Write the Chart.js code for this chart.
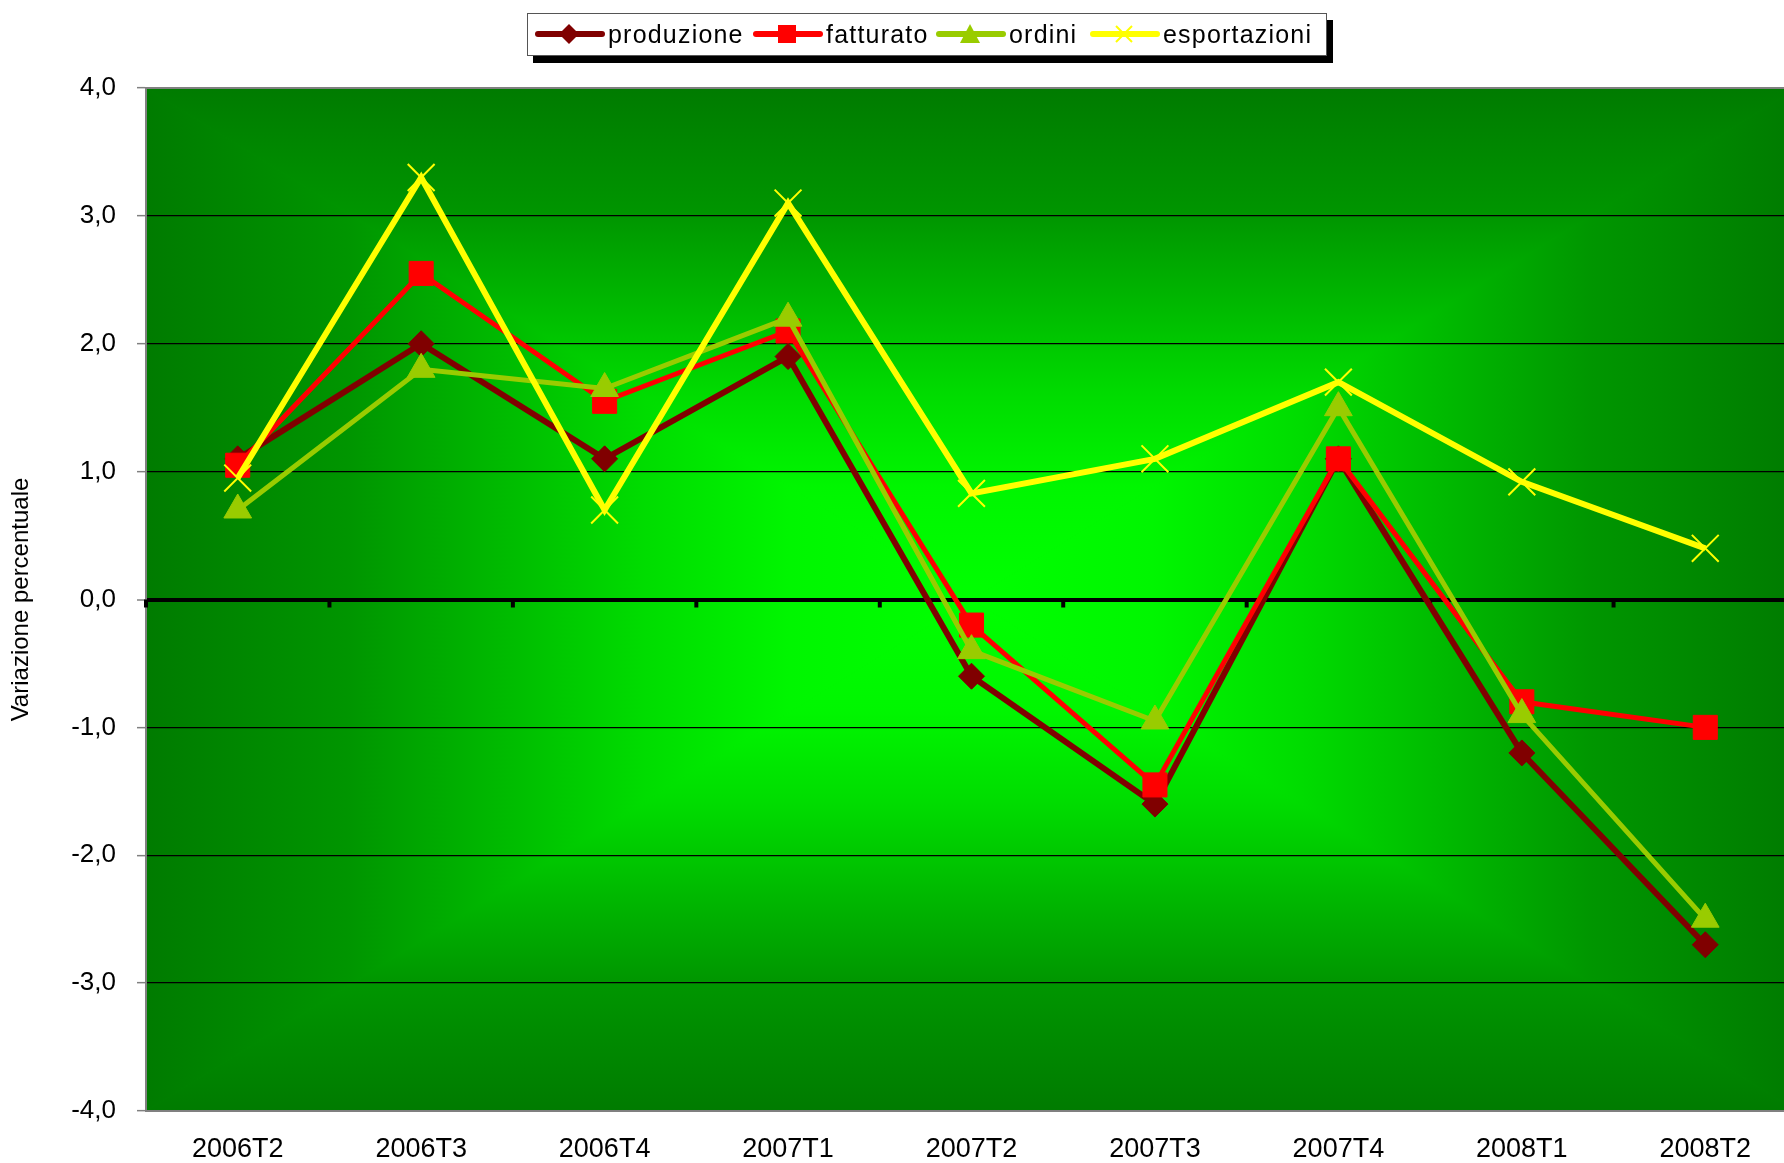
<!DOCTYPE html>
<html>
<head>
<meta charset="utf-8">
<script src="https://cdn.jsdelivr.net/npm/chart.js@4.4.1/dist/chart.umd.min.js"></script>
<style>
    html, body { margin: 0; padding: 0; background: #fff; overflow: hidden; }
    #wrap { position: relative; width: 1784px; height: 1163px; overflow: hidden; }
    #chart { position: absolute; left: 0; top: 0; }
    .legend {
        position: absolute; left: 527px; top: 13px; width: 800px; height: 43px;
        border: 1.5px solid #555; background: #fff; box-shadow: 6px 7px 0 #000;
        box-sizing: border-box;
        font-family: 'Liberation Sans', Arial, sans-serif; font-size: 25px; color: #000;
    }
    .legend .item { position: absolute; top: 0; height: 40px; display: flex; align-items: center; white-space: nowrap; }
    .legend svg { margin-right: 2px; }
    .legend span { letter-spacing: 1.2px; }
</style>
</head>
<body>
<div id="wrap">
    <canvas id="chart" width="1800" height="1163"></canvas>
    <div class="legend" id="legend"></div>
</div>
<script>
// Chart data
const categories = ['2006T2', '2006T3', '2006T4', '2007T1', '2007T2', '2007T3', '2007T4', '2008T1', '2008T2'];
const produzione = [1.1, 2.0, 1.1, 1.9, -0.6, -1.6, 1.1, -1.2, -2.7];
const fatturato = [1.05, 2.55, 1.55, 2.1, -0.2, -1.45, 1.1, -0.8, -1.0];
const ordini = [0.7, 1.8, 1.65, 2.2, -0.4, -0.95, 1.5, -0.9, -2.5];
const esportazioni = [0.95, 3.3, 0.7, 3.1, 0.83, 1.1, 1.7, 0.92, 0.4];
const yMin = -4;
const yMax = 4;

const FONT = "'Liberation Sans', Arial, sans-serif";

// 1. Series definitions (legendX = where the legend item starts inside the box)
const series = [
    { label: 'produzione', data: produzione, color: '#800000', style: 'rectRot', radius: 13, width: 6, order: 4, legendX: 4 },
    { label: 'fatturato', data: fatturato, color: '#ff0000', style: 'rect', radius: 17, width: 5, order: 3, legendX: 222 },
    { label: 'ordini', data: ordini, color: '#99cc00', style: 'triangle', radius: 16, width: 5, order: 2, legendX: 405 },
    { label: 'esportazioni', data: esportazioni, color: '#ffff00', style: 'crossRot', radius: 19, width: 6, order: 1, legendX: 559 }
];

// 2. Plot background: rectangular gradient from the centre (bright) to the edges (dark)
const bgPlugin = {
    id: 'bgPlugin',
    beforeDraw(chart) {
        const { ctx, chartArea: a } = chart;
        const cx = (a.left + a.right) / 2;
        const cy = (a.top + a.bottom) / 2;
        const stops = [[0, '#007b00'], [0.25, '#009600'], [0.38, '#00b000'], [0.6, '#00dc00'], [0.78, '#00f600'], [1, '#00ff00']];
        ctx.save();
        ctx.fillStyle = '#00b000';
        ctx.fillRect(a.left, a.top, a.right - a.left, a.bottom - a.top);
        const parts = [
            [[a.left, a.top], [a.right, a.top], [cx, a.top]],
            [[a.right, a.top], [a.right, a.bottom], [a.right, cy]],
            [[a.right, a.bottom], [a.left, a.bottom], [cx, a.bottom]],
            [[a.left, a.bottom], [a.left, a.top], [a.left, cy]]
        ];
        parts.forEach(([p1, p2, edge]) => {
            ctx.save();
            ctx.beginPath();
            ctx.moveTo(p1[0], p1[1]);
            ctx.lineTo(p2[0], p2[1]);
            ctx.lineTo(cx, cy);
            ctx.closePath();
            const g = ctx.createLinearGradient(edge[0], edge[1], cx, cy);
            stops.forEach(([t, c]) => g.addColorStop(t, c));
            ctx.fillStyle = g;
            ctx.fill();
            ctx.strokeStyle = g;
            ctx.lineWidth = 1;
            ctx.stroke();
            ctx.restore();
        });
        ctx.restore();
    },
    beforeDatasetsDraw(chart) {
        // tick marks on the zero line, between categories
        const { ctx, chartArea: a } = chart;
        const x = chart.scales.x;
        const y0 = chart.scales.y.getPixelForValue(0);
        const step = x.getPixelForTick(1) - x.getPixelForTick(0);
        ctx.save();
        ctx.strokeStyle = '#000';
        ctx.lineWidth = 4;
        for (let i = 0; i <= categories.length; i++) {
            const px = x.getPixelForTick(0) - step / 2 + i * step;
            ctx.beginPath();
            ctx.moveTo(px, y0);
            ctx.lineTo(px, y0 + 8);
            ctx.stroke();
        }
        // top border of the plot area
        ctx.strokeStyle = '#808080';
        ctx.lineWidth = 2;
        ctx.beginPath();
        ctx.moveTo(a.left, a.top);
        ctx.lineTo(a.right, a.top);
        ctx.stroke();
        ctx.restore();
    }
};

// 3. Chart
const ctx = document.getElementById('chart');
new Chart(ctx, {
    type: 'line',
    data: {
        labels: categories,
        datasets: series.map(s => ({
            label: s.label,
            data: s.data,
            order: s.order,
            borderColor: s.color,
            backgroundColor: s.color,
            borderWidth: s.width,
            tension: 0,
            fill: false,
            pointStyle: s.style,
            pointRadius: s.radius,
            pointHoverRadius: s.radius,
            pointBackgroundColor: s.color,
            pointBorderColor: s.color,
            pointBorderWidth: s.style === 'crossRot' ? 2 : 1
        }))
    },
    options: {
        responsive: false,
        animation: false,
        layout: { autoPadding: false, padding: { top: 88, right: 3, left: 0, bottom: 0 } },
        plugins: {
            legend: { display: false },
            tooltip: { enabled: false }
        },
        scales: {
            x: {
                offset: true,
                grid: { display: false, drawTicks: false },
                border: { color: '#808080', width: 2 },
                ticks: {
                    color: '#000',
                    padding: 22,
                    maxRotation: 0,
                    font: { family: FONT, size: 27 }
                },
                afterFit(scale) { scale.height = 52; }
            },
            y: {
                min: yMin,
                max: yMax,
                border: { color: '#808080', width: 2 },
                grid: {
                    color: c => (c.tick.value === yMin || c.tick.value === yMax) ? 'rgba(0,0,0,0)' : '#000',
                    lineWidth: c => c.tick.value === 0 ? 4 : 1.3,
                    tickColor: '#808080',
                    tickLength: 9,
                    tickWidth: 1.5
                },
                ticks: {
                    stepSize: 1,
                    color: '#000',
                    padding: 21,
                    font: { family: FONT, size: 26 },
                    callback: v => v.toFixed(1).replace('.', ',')
                },
                title: {
                    display: true,
                    text: 'Variazione percentuale',
                    color: '#000',
                    padding: { top: 7, bottom: 0 },
                    font: { family: FONT, size: 24 }
                },
                afterFit(scale) { scale.width = 146; }
            }
        }
    },
    plugins: [bgPlugin]
});

// 4. Legend (line + marker + label, like the original)
function markerSvg(s) {
    const c = s.color;
    let m = '';
    if (s.style === 'rectRot') m = `<polygon points="37,1 47,11 37,21 27,11" fill="${c}"/>`;
    if (s.style === 'rect') m = `<rect x="28" y="2" width="18" height="18" fill="${c}"/>`;
    if (s.style === 'triangle') m = `<polygon points="37,1 47,20 27,20" fill="${c}"/>`;
    if (s.style === 'crossRot') m = `<path d="M29,3 L45,19 M45,3 L29,19" stroke="${c}" stroke-width="2"/>`;
    return `<svg width="74" height="22" viewBox="0 0 74 22">
        <line x1="6" y1="11" x2="70" y2="11" stroke="${c}" stroke-width="6" stroke-linecap="round"/>${m}</svg>`;
}
const legendEl = document.getElementById('legend');
series.forEach(s => {
    const item = document.createElement('div');
    item.className = 'item';
    item.style.left = s.legendX + 'px';
    item.innerHTML = markerSvg(s) + `<span>${s.label}</span>`;
    legendEl.appendChild(item);
});
</script>
</body>
</html>
